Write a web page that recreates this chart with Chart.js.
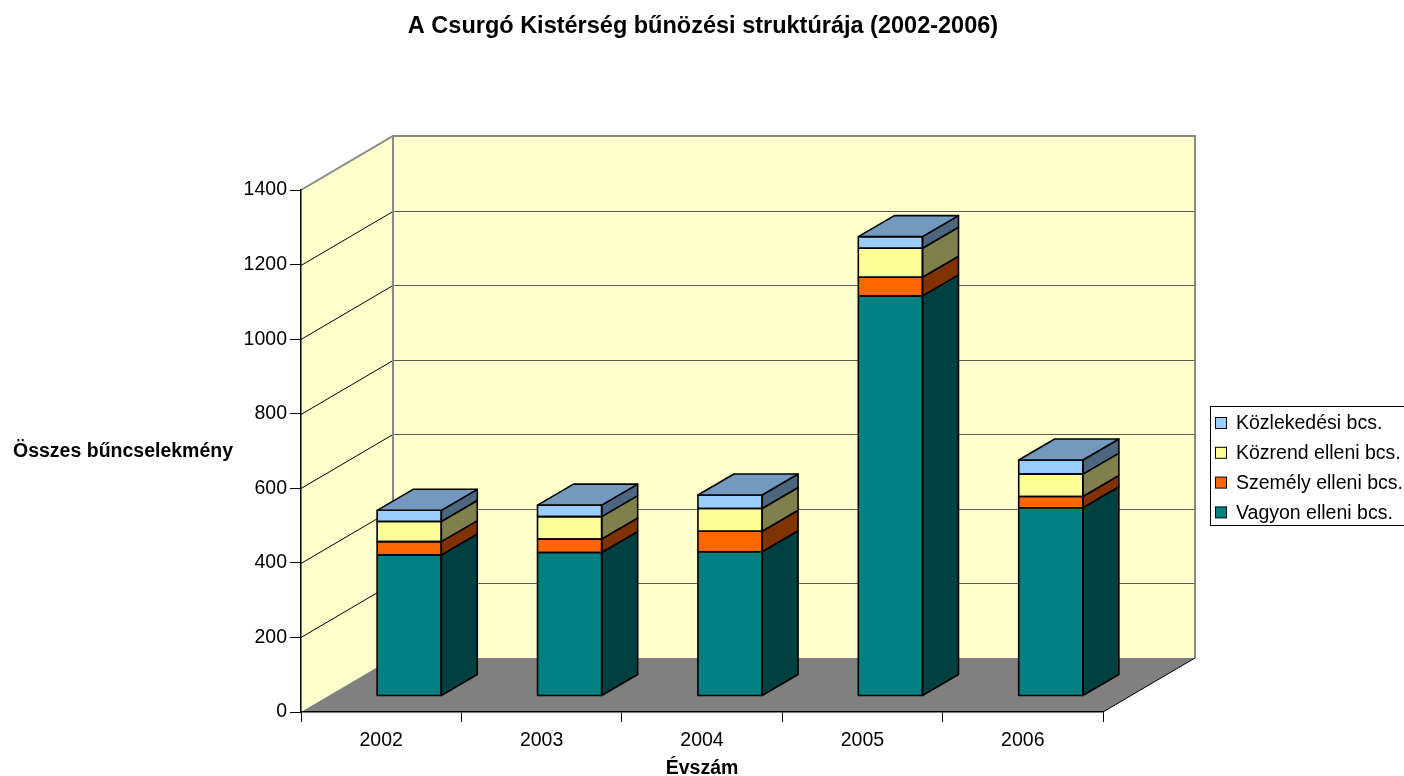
<!DOCTYPE html>
<html lang="hu">
<head>
<meta charset="utf-8">
<title>A Csurgó Kistérség bűnözési struktúrája (2002-2006)</title>
<script src="https://cdn.jsdelivr.net/npm/chart.js@4.4.1/dist/chart.umd.min.js"></script>
<style>
  html, body { margin:0; padding:0; background:#fff; }
  #wrap { width:1404px; height:776px; position:relative; }
</style>
</head>
<body>
<div id="wrap"><canvas id="chart"></canvas></div>
<script>
// ── DATA ──
const YEARS    = ['2002', '2003', '2004', '2005', '2006'];
const VAGYON   = [378, 385, 387, 1073, 505];
const SZEMELY  = [36, 36, 55, 50, 30];
const KOZREND  = [54, 60, 61, 78, 60];
const KOZLEKED = [30, 31, 36, 31, 38];
const Y_MAX  = 1400;
const Y_STEP = 200;

// ── 3D LOOK ──
const WALL      = { dx:92, dy:-54 };   // depth of the floor / side wall
const BAR_OFF   = { dx:28, dy:-16 };   // bars stand a bit behind the front edge
const BAR_DEPTH = { dx:36, dy:-21 };
const FONT = "'Liberation Sans', Arial, sans-serif";

const SERIES = [
  { label:'Vagyon elleni bcs.',  data:VAGYON,   front:'#008080', side:'#004040' },
  { label:'Személy elleni bcs.', data:SZEMELY,  front:'#FF6600', side:'#803300' },
  { label:'Közrend elleni bcs.', data:KOZREND,  front:'#FFFF99', side:'#80804C' },
  { label:'Közlekedési bcs.',    data:KOZLEKED, front:'#99CCFF', side:'#4C6680', top:'#7399BF' },
];

function poly(ctx, pts) {
  ctx.beginPath();
  pts.forEach(([x, y], i) => i ? ctx.lineTo(x, y) : ctx.moveTo(x, y));
  ctx.closePath();
}
function seg(ctx, x1, y1, x2, y2) {
  ctx.beginPath(); ctx.moveTo(x1, y1); ctx.lineTo(x2, y2); ctx.stroke();
}

// ── WALLS + FLOOR (under the axes) ──
const walls3d = {
  id:'walls3d',
  beforeDraw(chart) {
    const { ctx, chartArea:a, scales:{ y } } = chart;
    const { dx, dy } = WALL;
    ctx.save();
    ctx.fillStyle = '#FFFFCC';
    poly(ctx, [[a.left, a.top], [a.left + dx, a.top + dy], [a.left + dx, a.bottom + dy], [a.left, a.bottom]]);
    ctx.fill();
    ctx.fillRect(a.left + dx, a.top + dy, a.right - a.left, a.bottom - a.top);

    ctx.fillStyle = '#808080';
    poly(ctx, [[a.left, a.bottom], [a.left + dx, a.bottom + dy], [a.right + dx, a.bottom + dy], [a.right, a.bottom]]);
    ctx.fill();

    ctx.lineWidth = 1;
    y.ticks.forEach(t => {
      if (t.value <= 0 || t.value >= Y_MAX) return;
      const py = Math.round(y.getPixelForValue(t.value)) + 0.5;
      ctx.strokeStyle = '#000';
      seg(ctx, a.left, py, a.left + dx, py + dy);
      ctx.strokeStyle = '#5a5a50';
      seg(ctx, a.left + dx, py + dy, a.right + dx, py + dy);
    });

    ctx.strokeStyle = '#888';
    ctx.lineWidth = 2;
    ctx.beginPath();
    ctx.moveTo(a.left, a.top);
    ctx.lineTo(a.left + dx, a.top + dy);
    ctx.lineTo(a.right + dx, a.top + dy);
    ctx.lineTo(a.right + dx, a.bottom + dy);
    ctx.stroke();
    seg(ctx, a.left + dx, a.top + dy, a.left + dx, a.bottom + dy);

    ctx.strokeStyle = '#000';
    ctx.lineWidth = 1;
    seg(ctx, a.right, a.bottom, a.right + dx, a.bottom + dy);
    ctx.restore();
  }
};

// ── BAR SIDES + TOPS ──
const bars3d = {
  id:'bars3d',
  beforeDatasetsDraw(chart) {
    chart.ctx.save();
    chart.ctx.translate(BAR_OFF.dx, BAR_OFF.dy);
  },
  afterDatasetsDraw(chart) {
    const ctx = chart.ctx;
    const { dx, dy } = BAR_DEPTH;
    const last = chart.data.datasets.length - 1;
    ctx.lineWidth = 1.6;
    ctx.lineJoin = 'round';
    ctx.strokeStyle = '#000';
    chart.data.datasets.forEach((ds, di) => {
      chart.getDatasetMeta(di).data.forEach(bar => {
        const { x, y, base, width } = bar.getProps(['x', 'y', 'base', 'width'], true);
        const l = x - width / 2, r = x + width / 2;
        ctx.fillStyle = SERIES[di].side;
        poly(ctx, [[r, y], [r + dx, y + dy], [r + dx, base + dy], [r, base]]);
        ctx.fill(); ctx.stroke();
        ctx.strokeRect(l, y, width, base - y);
        if (di === last) {
          ctx.fillStyle = SERIES[di].top;
          poly(ctx, [[l, y], [l + dx, y + dy], [r + dx, y + dy], [r, y]]);
          ctx.fill(); ctx.stroke();
        }
      });
    });
    ctx.restore();
  }
};

// ── TITLES + LEGEND ──
const labels2d = {
  id:'labels2d',
  afterDraw(chart) {
    const ctx = chart.ctx;
    ctx.save();
    ctx.fillStyle = '#000';
    ctx.textBaseline = 'middle';
    ctx.textAlign = 'center';
    ctx.font = `bold 23.5px ${FONT}`;
    ctx.fillText('A Csurgó Kistérség bűnözési struktúrája (2002-2006)', 703, 27);

    ctx.textAlign = 'left';
    ctx.font = `bold 19.5px ${FONT}`;
    ctx.fillText('Összes bűncselekmény', 13, 452);

    // legend (reversed, like the stack)
    ctx.strokeStyle = '#000';
    ctx.lineWidth = 1;
    ctx.strokeRect(1210.5, 406.5, 220, 119);
    ctx.font = `19.5px ${FONT}`;
    const items = chart.data.datasets.map((ds, i) => ({ label:ds.label, color:SERIES[i].front })).reverse();
    items.forEach((it, i) => {
      const cy = 424 + i * 29.8;
      ctx.fillStyle = it.color;
      ctx.fillRect(1215.5, cy - 6.5, 11, 11);
      ctx.strokeRect(1215.5, cy - 6.5, 11, 11);
      ctx.fillStyle = '#000';
      ctx.fillText(it.label, 1236, cy);
    });
    ctx.restore();
  }
};

// ── CHART ──
const chart = new Chart(document.getElementById('chart'), {
  type:'bar',
  data:{
    labels:YEARS,
    datasets:SERIES.map(s => ({
      label:s.label, data:s.data, backgroundColor:s.front, borderWidth:0,
      barPercentage:0.4, categoryPercentage:1.0, stack:'s'
    }))
  },
  options:{
    responsive:true, maintainAspectRatio:false, animation:false, devicePixelRatio:1,
    layout:{ padding:{ top:190, right:301, bottom:0, left:0 } },
    scales:{
      x:{
        stacked:true,
        grid:{ drawOnChartArea:false, color:'#000', tickLength:10 },
        border:{ color:'#000', width:1.5 },
        ticks:{ color:'#000', font:{ family:FONT, size:19.5 }, padding:7, maxRotation:0, autoSkip:false },
        title:{ display:true, text:'Évszám', color:'#000', padding:0,
                font:{ family:FONT, size:19.5, weight:'bold', lineHeight:0.8 } },
        afterFit(scale) { scale.height = 64; }
      },
      y:{
        stacked:true, min:0, max:Y_MAX,
        grid:{ drawOnChartArea:false, color:'#000', tickLength:11 },
        border:{ color:'#000', width:1.5 },
        ticks:{ stepSize:Y_STEP, color:'#000', font:{ family:FONT, size:19.5 }, padding:3,
                callback:v => String(v) },
        afterFit(scale) { scale.width = 301; }
      }
    },
    plugins:{
      legend:{ display:false },
      title:{ display:false },
      tooltip:{ enabled:false }
    }
  },
  plugins:[walls3d, bars3d, labels2d]
});
</script>
</body>
</html>
